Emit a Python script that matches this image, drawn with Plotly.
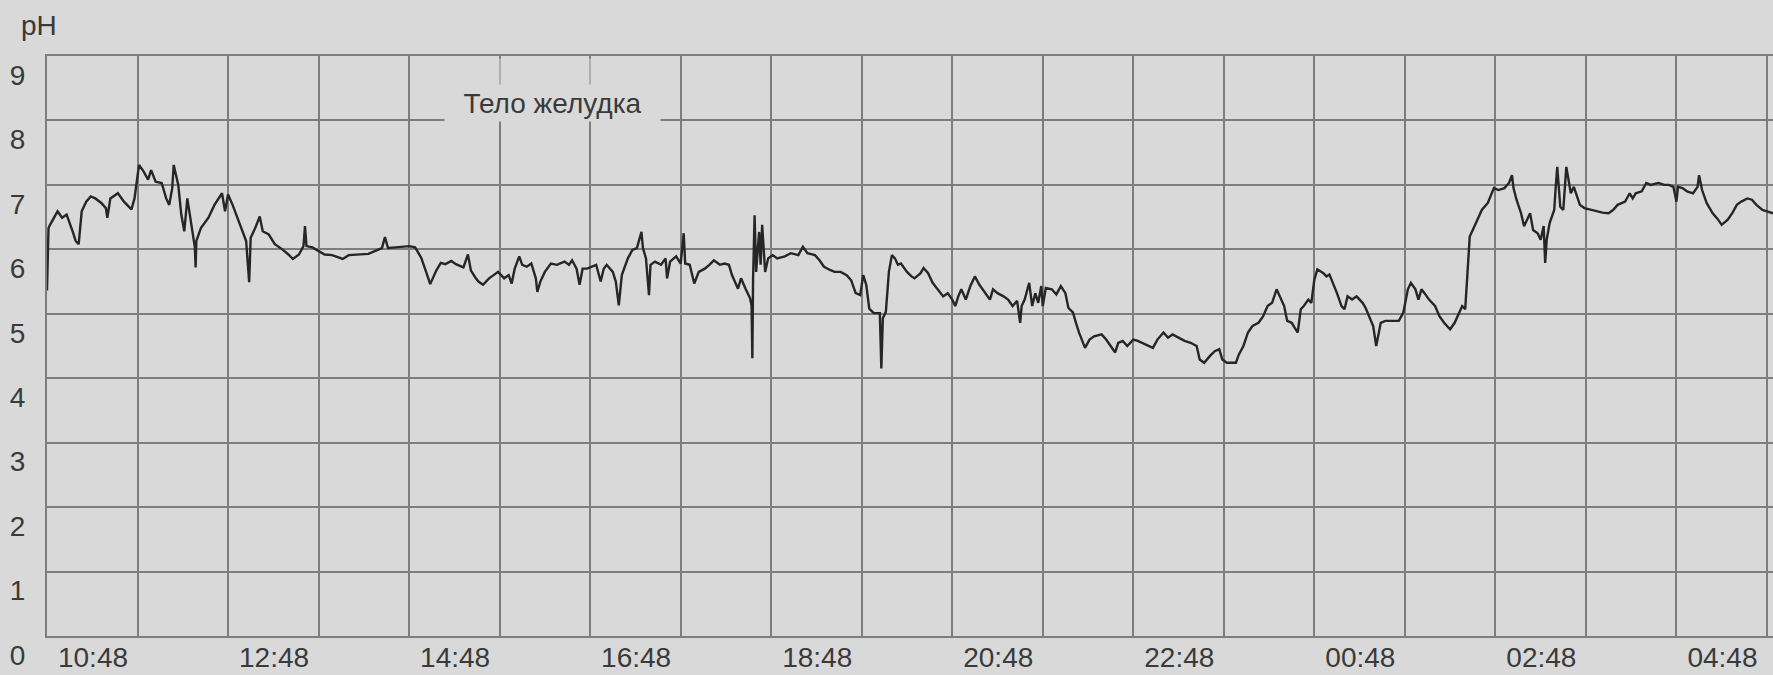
import pandas as pd
import plotly.graph_objects as go

# Recording start and the pH probe trace (minutes after start, pH value)
START = pd.Timestamp("2000-01-01 10:48")

minutes = [
    0, 1, 2, 7, 10, 13, 17, 19, 21, 23, 26, 29, 32, 36, 39, 40, 42, 47, 51, 56,
    58, 60, 61, 64, 67, 69, 72, 76, 79, 81, 83, 84, 87, 89, 91, 93, 96, 98, 98.5, 99,
    102, 107, 111, 116, 118, 120, 123, 127, 130, 132, 134, 135, 138, 141, 143, 147, 151, 156, 160, 163,
    167, 170, 171, 172, 176, 180, 184, 189, 196, 200, 207, 213, 218, 222, 224, 226, 231, 236, 240, 244,
    248, 251, 254, 258, 261, 264, 268, 271, 276, 279, 281, 284,
    286, 289, 293, 296, 299, 303, 306, 308, 310, 313, 315, 318, 321, 324, 325, 327, 330, 334, 338, 343,
    346, 348, 351, 353, 355, 358, 361, 364, 367, 369, 371, 375, 377, 379, 381, 385, 388, 391, 394, 395,
    397, 399, 400, 403, 407, 410, 411, 413, 417, 420, 422, 423, 426, 429, 432, 436, 439, 442, 446, 449,
    452, 454, 458, 460, 463, 466, 467, 467.5, 468, 469, 470, 472, 473, 474, 476, 478, 481, 484, 489, 493,
    498, 501, 504, 509, 512, 515, 519, 522, 526, 530, 533, 536, 539, 541, 543, 545, 548, 552, 553, 554,
    556, 558, 560, 562, 564, 566, 570, 573, 575,
    579, 581, 584, 587, 591, 594, 597, 600, 602, 604, 606, 609, 612, 615, 618, 622, 625, 627, 630, 634,
    637, 640, 643, 645, 646, 648, 651, 653, 655, 657, 659, 660, 662, 666, 669, 672, 675, 677, 680, 682,
    684, 688, 691, 694, 699, 702, 705, 708, 710, 713, 716, 720, 723, 726, 730, 733, 736, 740, 743, 746,
    750, 754, 758, 762, 764, 767, 771, 774, 777, 779, 782, 785, 788, 790, 793, 796, 799, 803, 806, 809,
    812, 815, 817, 820, 822, 825, 827, 829, 831, 833, 836, 838, 840, 842, 846, 848, 850, 853, 855, 858,
    860,
    862, 865, 868, 872, 874, 877, 879, 881, 884, 887, 891, 896, 899, 902, 904, 907, 909, 911, 913, 916,
    920, 923, 926, 930, 933, 936, 938, 940, 942, 943, 945, 948, 951, 955, 957, 959, 962, 966, 969, 971,
    972, 974, 977, 979, 981, 983, 985, 988, 990, 992, 993, 994, 996, 999, 1000, 1001, 1003, 1005, 1007, 1010,
    1012, 1014, 1016, 1019, 1024, 1028, 1031, 1035, 1038, 1041, 1046, 1049, 1051, 1053, 1057, 1060, 1063, 1068, 1072, 1075,
    1078, 1080, 1081, 1084, 1087, 1091, 1094, 1095, 1097, 1100, 1104, 1107, 1110, 1114, 1117, 1120, 1123, 1127, 1130, 1133,
    1137, 1140, 1144,
]

ph = [
    5.36, 6.33, 6.38, 6.59, 6.49, 6.54, 6.28, 6.13, 6.08, 6.59, 6.74, 6.82, 6.79, 6.72, 6.64, 6.49, 6.79, 6.87, 6.74, 6.62,
    6.79, 7.15, 7.31, 7.21, 7.08, 7.23, 7.05, 7.03, 6.79, 6.69, 6.95, 7.31, 7.00, 6.54, 6.28, 6.79, 6.33, 6.03, 5.72, 6.13,
    6.33, 6.49, 6.69, 6.87, 6.59, 6.85, 6.69, 6.44, 6.28, 6.13, 5.49, 6.18, 6.33, 6.51, 6.28, 6.23, 6.08, 6.00, 5.92, 5.85,
    5.92, 6.05, 6.36, 6.05, 6.03, 5.97, 5.92, 5.91, 5.85, 5.91, 5.92, 5.93, 5.98, 6.02, 6.19, 6.02, 6.03, 6.04, 6.05, 6.03,
    5.87, 5.67, 5.46, 5.67, 5.79, 5.77, 5.82, 5.77, 5.72, 5.92, 5.67, 5.56,
    5.50, 5.45, 5.55, 5.60, 5.65, 5.55, 5.60, 5.47, 5.70, 5.89, 5.76, 5.73, 5.78, 5.55, 5.34, 5.50, 5.65, 5.78, 5.76, 5.81,
    5.76, 5.83, 5.70, 5.45, 5.70, 5.70, 5.73, 5.76, 5.50, 5.70, 5.76, 5.65, 5.50, 5.13, 5.60, 5.86, 5.99, 6.02, 6.27, 6.02,
    5.86, 5.29, 5.76, 5.81, 5.76, 5.86, 5.55, 5.81, 5.89, 5.78, 6.25, 5.78, 5.76, 5.47, 5.65, 5.70, 5.76, 5.83, 5.76, 5.78,
    5.76, 5.60, 5.39, 5.55, 5.39, 5.24, 5.13, 4.31, 5.55, 6.53, 5.65, 6.27, 5.76, 6.38, 5.65, 5.86, 5.91, 5.86, 5.89, 5.94,
    5.91, 6.04, 5.94, 5.91, 5.83, 5.73, 5.68, 5.65, 5.65, 5.60, 5.52, 5.32, 5.29, 5.60, 5.45, 5.08, 5.01, 5.01, 4.15, 4.93,
    5.03, 5.65, 5.91, 5.86, 5.76, 5.78, 5.65, 5.58, 5.55,
    5.63, 5.71, 5.63, 5.48, 5.35, 5.27, 5.32, 5.22, 5.12, 5.27, 5.38, 5.22, 5.43, 5.58, 5.45, 5.32, 5.22, 5.38, 5.32, 5.27,
    5.22, 5.12, 5.20, 4.86, 5.12, 5.22, 5.48, 5.12, 5.32, 5.17, 5.43, 5.12, 5.40, 5.38, 5.30, 5.43, 5.32, 5.09, 5.02, 4.86,
    4.71, 4.47, 4.60, 4.65, 4.68, 4.60, 4.50, 4.40, 4.55, 4.58, 4.50, 4.60, 4.58, 4.55, 4.50, 4.47, 4.60, 4.71, 4.63, 4.68,
    4.63, 4.58, 4.55, 4.50, 4.29, 4.24, 4.35, 4.42, 4.45, 4.29, 4.24, 4.24, 4.24, 4.37, 4.50, 4.71, 4.81, 4.86, 4.96, 5.12,
    5.17, 5.38, 5.27, 5.12, 4.89, 4.86, 4.78, 4.71, 5.07, 5.12, 5.22, 5.17, 5.53, 5.69, 5.63, 5.58, 5.61, 5.45, 5.32, 5.12,
    5.07,
    5.27, 5.22, 5.27, 5.17, 5.09, 4.91, 4.81, 4.50, 4.86, 4.89, 4.89, 4.89, 5.02, 5.38, 5.48, 5.38, 5.22, 5.38, 5.32, 5.22,
    5.12, 4.96, 4.86, 4.76, 4.86, 5.02, 5.12, 5.07, 5.74, 6.20, 6.30, 6.46, 6.61, 6.72, 6.85, 6.95, 6.92, 6.95, 7.03, 7.15,
    6.95, 6.77, 6.56, 6.36, 6.46, 6.56, 6.30, 6.25, 6.15, 6.36, 5.79, 6.15, 6.41, 6.61, 6.97, 7.28, 6.66, 6.61, 7.28, 6.87,
    6.97, 6.82, 6.69, 6.64, 6.61, 6.59, 6.57, 6.56, 6.61, 6.69, 6.74, 6.87, 6.79, 6.87, 6.90, 7.03, 7.00, 7.03, 7.00, 7.00,
    6.97, 6.74, 6.97, 6.95, 6.90, 6.87, 6.97, 7.15, 6.92, 6.72, 6.56, 6.48, 6.38, 6.46, 6.56, 6.69, 6.74, 6.79, 6.77, 6.69,
    6.61, 6.59, 6.56,
]

# Axis ticks: a grid line every hour, a clock label every second hour
hour_ticks = list(range(0, 20))
x_labels = ["10:48", "12:48", "14:48", "16:48", "18:48",
            "20:48", "22:48", "00:48", "02:48", "04:48"]
y_ticks = list(range(0, 10))

BG = "#d9d9d9"
GRID = "#7d7d7d"
INK = "#262626"
TEXT = "#3a3a3a"
FONT = "Liberation Sans, Arial, Helvetica, sans-serif"

times = START + pd.to_timedelta(minutes, unit="m")
tickvals = [START + pd.Timedelta(hours=h) for h in hour_ticks]
ticktext = [x_labels[h // 2] if h % 2 == 0 else "" for h in hour_ticks]

fig = go.Figure(
    go.Scatter(
        x=times, y=ph, mode="lines",
        line=dict(color=INK, width=2.4),
        hoverinfo="skip",
    )
)

fig.update_layout(
    width=1773, height=675,
    margin=dict(l=47, r=0, t=56, b=39, autoexpand=False),
    paper_bgcolor=BG, plot_bgcolor=BG,
    showlegend=False,
    font=dict(family=FONT, size=28, color=TEXT),
)

fig.update_xaxes(
    type="date",
    range=[START, START + pd.Timedelta(minutes=1144)],
    tickmode="array", tickvals=tickvals, ticktext=ticktext,
    showgrid=True, gridcolor=GRID, gridwidth=2,
    showline=True, linecolor=GRID, linewidth=2, mirror=True,
    zeroline=False, ticks="",
    ticklabelshift=46, ticklabelstandoff=-5,
    automargin=False,
)

fig.update_yaxes(
    range=[0, 9],
    tickmode="array", tickvals=y_ticks,
    showgrid=True, gridcolor=GRID, gridwidth=2,
    showline=True, linecolor=GRID, linewidth=2, mirror=False,
    zeroline=False, ticks="",
    ticklabelshift=19, ticklabelstandoff=14,
    automargin=False,
)

# Axis unit in the top-left corner
fig.add_annotation(
    text="pH", xref="paper", yref="paper", x=-0.0046, y=1.052,
    xanchor="center", yanchor="middle", showarrow=False,
    font=dict(family=FONT, size=28, color=TEXT),
)

# Faded strip above the segment label, over the grid
fig.add_shape(
    type="rect", layer="above", line=dict(width=0),
    x0=START + pd.Timedelta(minutes=263), x1=START + pd.Timedelta(minutes=405),
    y0=8.55, y1=8.96,
    fillcolor=BG, opacity=0.55,
)

# Segment label for the stomach-body recording
fig.add_annotation(
    text="Тело желудка",
    x=START + pd.Timedelta(minutes=335), y=8.27,
    xanchor="center", yanchor="middle", showarrow=False,
    width=215, height=36, borderpad=0, bgcolor=BG,
    font=dict(family=FONT, size=28, color=TEXT),
)

fig.write_html("out.html")
